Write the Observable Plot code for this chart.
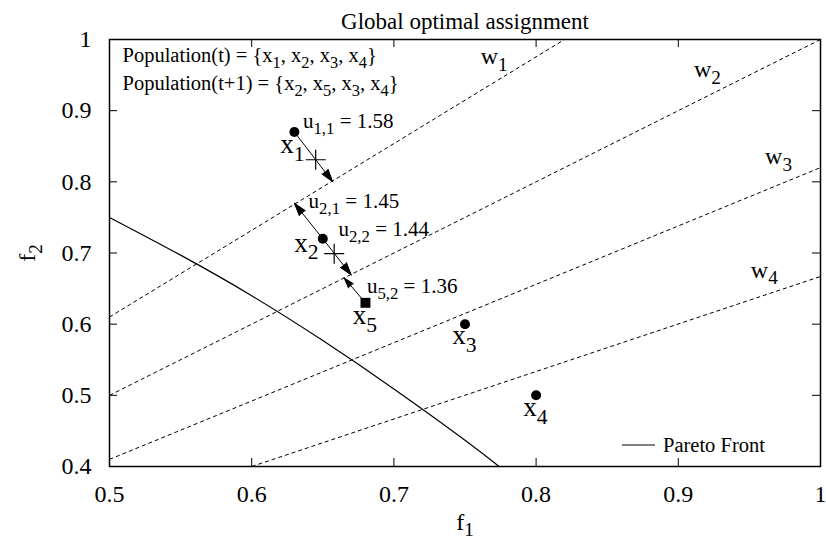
<!DOCTYPE html>
<html><head><meta charset="utf-8">
<script src="https://cdn.jsdelivr.net/npm/d3@7"></script>
<script src="https://cdn.jsdelivr.net/npm/@observablehq/plot@0.6"></script>
<style>body{margin:0;background:#fff} svg{display:block}</style>
</head><body><div id="chart"></div>
<script>
// ---- data ----
const titleText = "Global optimal assignment";
const xLabel = "f_1";
const yLabel = "f_2";
const xTicks = [0.5, 0.6, 0.7, 0.8, 0.9, 1];
const yTicks = [0.4, 0.5, 0.6, 0.7, 0.8, 0.9, 1];
const populationLines = ["Population(t) = {x_1, x_2, x_3, x_4}", "Population(t+1) = {x_2, x_5, x_3, x_4}"];
const legendLabel = "Pareto Front";

// Pareto front
const paretoF1 = [0.5, 0.55, 0.6, 0.65, 0.7, 0.75, 0.774];
const paretoF2 = [0.75, 0.697, 0.640, 0.577, 0.509, 0.437, 0.4];

// weight vectors (dashed lines)
const weightNames = ["w_1", "w_2", "w_3", "w_4"];
const weightStartF1 = [0.5, 0.5, 0.5, 0.6];
const weightStartF2 = [0.61, 0.5, 0.41, 0.4];
const weightEndF1 = [0.82, 1, 1, 1];
const weightEndF2 = [1, 1, 0.82, 0.667];
const weightLabelF1 = [0.761, 0.911, 0.961, 0.951];
const weightLabelF2 = [0.976, 0.958, 0.836, 0.676];

// population members
const pointF1 = [0.63, 0.65, 0.75, 0.80];
const pointF2 = [0.87, 0.72, 0.60, 0.50];
const newPointF1 = [0.68];
const newPointF2 = [0.63];
const pointLabelNames = ["x_1", "x_2", "x_5", "x_3", "x_4"];
const pointLabelF1 = [0.620, 0.630, 0.671, 0.741, 0.791];
const pointLabelF2 = [0.852, 0.714, 0.612, 0.584, 0.483];

// projections (crosses)
const crossF1 = [0.645, 0.658];
const crossF2 = [0.831, 0.699];

// arrows
const arrowFromF1 = [0.630, 0.650, 0.650, 0.680];
const arrowFromF2 = [0.870, 0.720, 0.720, 0.630];
const arrowToF1 = [0.657, 0.630, 0.670, 0.665];
const arrowToF2 = [0.800, 0.770, 0.669, 0.665];

// utility labels
const utilityLabels = ["u_{1,1} = 1.58", "u_{2,1} = 1.45", "u_{2,2} = 1.44", "u_{5,2} = 1.36"];
const utilityF1 = [0.636, 0.640, 0.661, 0.681];
const utilityF2 = [0.885, 0.772, 0.733, 0.653];

// ---- chart ----
const W = 826, H = 553;
const mL = 109, mR = 6, mT = 39, mB = 87;
const pW = W - mL - mR, pH = H - mT - mB;
const idx = n => d3.range(n);
const font = "Liberation Serif, Times New Roman, serif";

const plot = Plot.plot({
  width: W, height: H,
  marginLeft: mL, marginRight: mR, marginTop: mT, marginBottom: mB,
  style: {fontFamily: font, fontSize: "24px", background: "white", color: "black", overflow: "visible"},
  x: {domain: [0.5, 1], ticks: xTicks, tickFormat: d => String(d), tickSize: 0, tickPadding: 18, label: null},
  y: {domain: [0.4, 1], ticks: yTicks, tickFormat: d => String(d), tickSize: 0, tickPadding: 18, label: null},
  marks: [
    // dashed weight lines
    Plot.link(idx(4), {x1: i => weightStartF1[i], y1: i => weightStartF2[i], x2: i => weightEndF1[i], y2: i => weightEndF2[i],
      stroke: "black", strokeWidth: 1, strokeDasharray: "4,3"}),
    // Pareto front
    Plot.line(idx(paretoF1.length), {x: i => paretoF1[i], y: i => paretoF2[i], stroke: "black", strokeWidth: 1.2, curve: "natural"}),
    // arrows
    Plot.arrow(idx(4), {x1: i => arrowFromF1[i], y1: i => arrowFromF2[i], x2: i => arrowToF1[i], y2: i => arrowToF2[i],
      stroke: "black", fill: "black", strokeWidth: 1, headAngle: 34, headLength: 20, strokeLinejoin: "miter"}),
    // points
    Plot.dot(idx(4), {x: i => pointF1[i], y: i => pointF2[i], r: 5, fill: "black", stroke: "none"}),
    Plot.dot(idx(1), {x: i => newPointF1[i], y: i => newPointF2[i], symbol: "square", r: 5.6, fill: "black", stroke: "none"}),
    Plot.dot(idx(2), {x: i => crossF1[i], y: i => crossF2[i], symbol: "plus", r: 6.5, stroke: "black", strokeWidth: 1.2}),
    // labels
    Plot.text(idx(5), {x: i => pointLabelF1[i], y: i => pointLabelF2[i], text: i => pointLabelNames[i], textAnchor: "start", fontSize: 27}),
    Plot.text(idx(4), {x: i => utilityF1[i], y: i => utilityF2[i], text: i => utilityLabels[i], textAnchor: "start", fontSize: 21}),
    Plot.text(idx(4), {x: i => weightLabelF1[i], y: i => weightLabelF2[i], text: i => weightNames[i], textAnchor: "start", fontSize: 24}),
    Plot.text([populationLines[0]], {frameAnchor: "top-left", dx: 13, dy: 16, textAnchor: "start", lineAnchor: "middle", fontSize: 20.5}),
    Plot.text([populationLines[1]], {frameAnchor: "top-left", dx: 13, dy: 44, textAnchor: "start", lineAnchor: "middle", fontSize: 20.5}),
    // title and axis labels
    Plot.text([titleText], {frameAnchor: "top", dy: -27, textAnchor: "middle", fontSize: 23}),
    Plot.text([xLabel], {frameAnchor: "bottom", dy: 63, textAnchor: "middle", fontSize: 24}),
    Plot.text([yLabel], {frameAnchor: "left", dx: -82, rotate: -90, textAnchor: "middle", fontSize: 24}),
    // inward ticks on all four sides
    Plot.tickX(xTicks, {x: d => d, insetTop: pH - 8, stroke: "black", strokeWidth: 1}),
    Plot.tickX(xTicks, {x: d => d, insetBottom: pH - 8, stroke: "black", strokeWidth: 1}),
    Plot.tickY(yTicks, {y: d => d, insetRight: pW - 8, stroke: "black", strokeWidth: 1}),
    Plot.tickY(yTicks, {y: d => d, insetLeft: pW - 8, stroke: "black", strokeWidth: 1}),
    Plot.frame({stroke: "black", strokeWidth: 1.5})
  ]
});

// legend (Pareto Front sample line + label), placed relative to the frame
const sx = plot.scale("x"), sy = plot.scale("y");
const right = sx.apply(1), bottom = sy.apply(0.4);
const lg = d3.select(plot).append("g").attr("class", "legend");
lg.append("line").attr("x1", right - 198).attr("x2", right - 165).attr("y1", bottom - 21).attr("y2", bottom - 21)
  .attr("stroke", "black").attr("stroke-width", 1.2);
lg.append("text").attr("x", right - 157).attr("y", bottom - 14).attr("font-size", 20.5).attr("font-family", font)
  .attr("text-anchor", "start").attr("fill", "black").text(legendLabel);

// convert "_x" / "_{..}" into subscript tspans
function subscriptify(svg) {
  d3.select(svg).selectAll("text").each(function() {
    const el = this, s = el.textContent;
    if (!s.includes("_")) return;
    while (el.firstChild) el.removeChild(el.firstChild);
    const re = /_\{([^}]*)\}|_(.)/g;
    let last = 0, m, shifted = false;
    const add = (t, sub) => {
      const ts = document.createElementNS("http://www.w3.org/2000/svg", "tspan");
      ts.textContent = t;
      if (sub) { ts.setAttribute("font-size", "80%"); ts.setAttribute("dy", "0.35em"); }
      else if (shifted) { ts.setAttribute("dy", "-0.28em"); }
      el.appendChild(ts);
      shifted = sub;
    };
    while ((m = re.exec(s))) {
      if (m.index > last) add(s.slice(last, m.index), false);
      add(m[1] !== undefined ? m[1] : m[2], true);
      last = re.lastIndex;
    }
    if (last < s.length) add(s.slice(last), false);
  });
}
subscriptify(plot);
document.getElementById("chart").appendChild(plot);
</script>
</body></html>
